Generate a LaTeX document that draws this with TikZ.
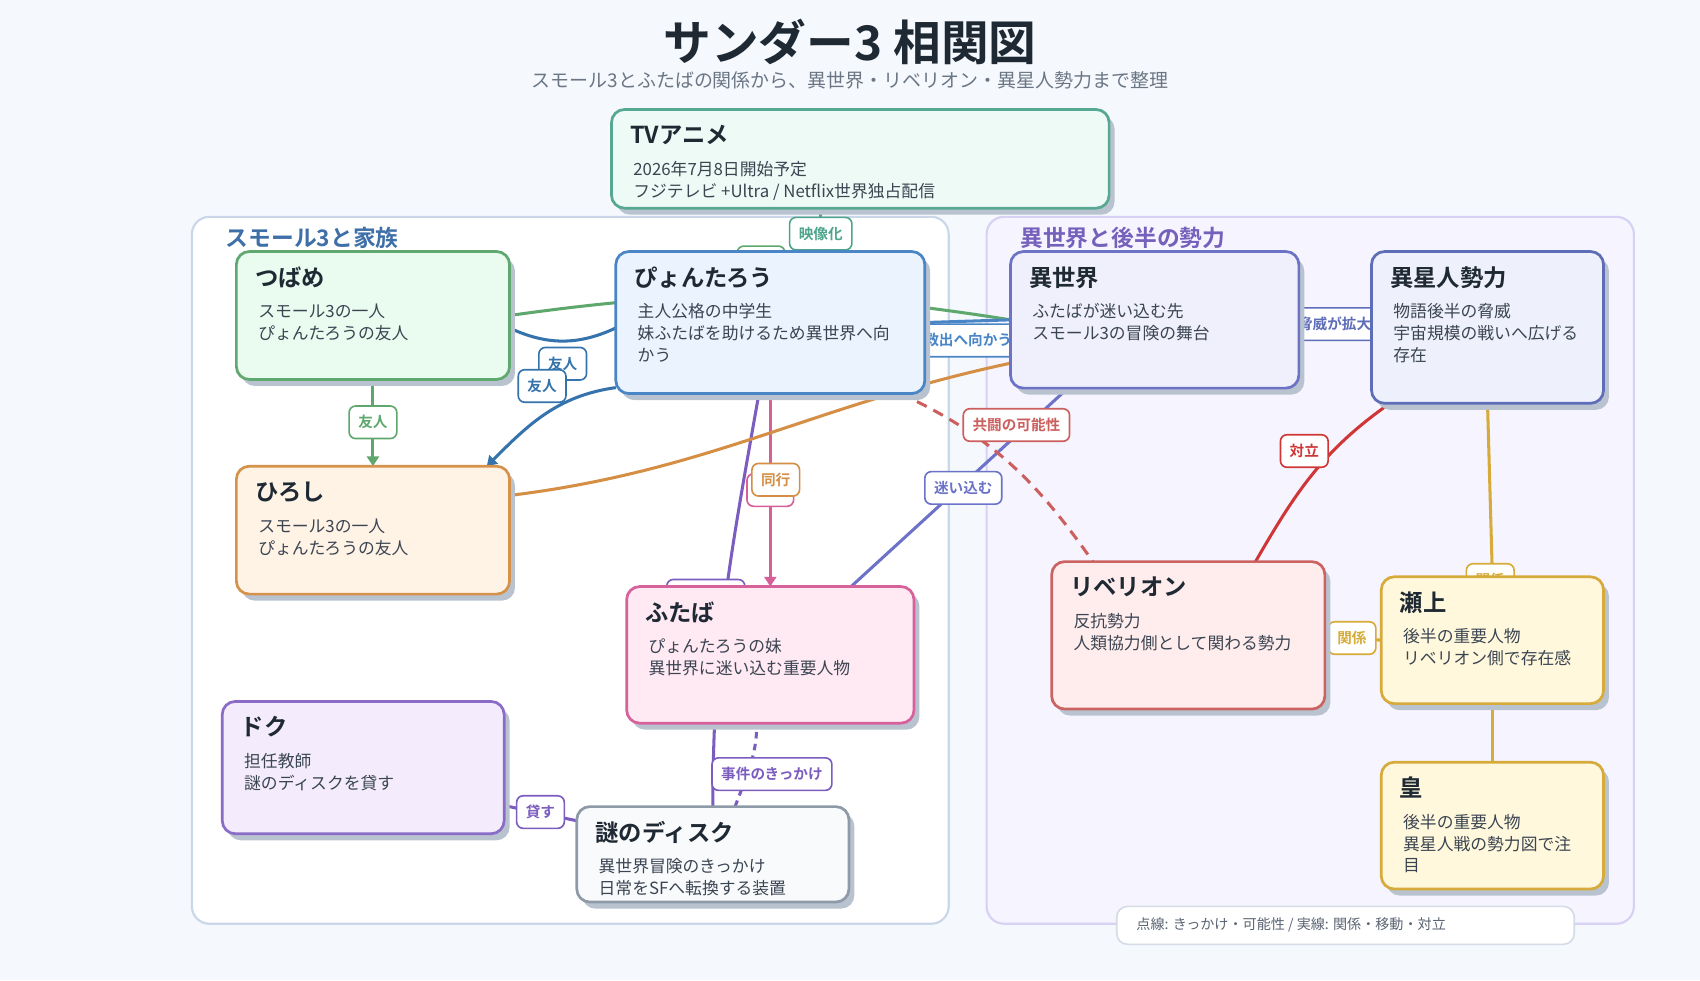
\documentclass[tikz,border=0pt]{standalone}
\usepackage{fontspec}
\setmainfont{Noto Sans CJK JP}[BoldFont={Noto Sans CJK JP Bold}]
\usetikzlibrary{arrows.meta,shadows}

\definecolor{bgc}{HTML}{F5F8FD}
\definecolor{shadowc}{HTML}{B9C3CF}
\definecolor{ink}{HTML}{1F2933}
\definecolor{bodyc}{HTML}{3B4552}
\definecolor{subc}{HTML}{6B7684}
\definecolor{grpLd}{HTML}{CAD7E8}
\definecolor{grpLt}{HTML}{3F6FA8}
\definecolor{grpRd}{HTML}{D7D1F3}
\definecolor{grpRf}{HTML}{F6F4FE}
\definecolor{grpRt}{HTML}{7561BC}
\definecolor{tvD}{HTML}{57A892}\definecolor{tvF}{HTML}{EEFAF5}
\definecolor{tsuD}{HTML}{5FA870}\definecolor{tsuF}{HTML}{EAFBEF}
\definecolor{pyoD}{HTML}{4A86C6}\definecolor{pyoF}{HTML}{EAF3FE}
\definecolor{iseD}{HTML}{6C73C7}\definecolor{iseF}{HTML}{EFF0FC}
\definecolor{aliD}{HTML}{5E6DB8}\definecolor{aliF}{HTML}{EEF1FC}
\definecolor{hirD}{HTML}{D4924B}\definecolor{hirF}{HTML}{FFF3E6}
\definecolor{futD}{HTML}{D6619B}\definecolor{futF}{HTML}{FFE9F3}
\definecolor{rebD}{HTML}{CC6363}\definecolor{rebF}{HTML}{FFECEC}
\definecolor{yelD}{HTML}{D6AB3B}\definecolor{yelF}{HTML}{FFF8DC}
\definecolor{docD}{HTML}{8A6CC7}\definecolor{docF}{HTML}{F4ECFD}
\definecolor{dskD}{HTML}{8E9AA8}\definecolor{dskF}{HTML}{F8FAFC}
\definecolor{legD}{HTML}{D5DCE6}
\definecolor{legT}{HTML}{5A6472}
\definecolor{cTeal}{HTML}{4FA58C}
\definecolor{cGreen}{HTML}{5EA86E}
\definecolor{cBlue}{HTML}{3573AC}
\definecolor{cOrange}{HTML}{D48F45}
\definecolor{cPink}{HTML}{D65F98}
\definecolor{cIndigo}{HTML}{6B72C8}
\definecolor{cPurple}{HTML}{7B5CBF}
\definecolor{cRed}{HTML}{CC5E5E}
\definecolor{cRedD}{HTML}{D03636}
\definecolor{cYellow}{HTML}{D6AB3A}

\newcommand\boxlines[1]{\begin{tabular}[t]{@{}l@{}}#1\end{tabular}}

\pgfdeclarelayer{back}
\pgfdeclarelayer{edge}
\pgfdeclarelayer{lbl}
\pgfsetlayers{back,edge,lbl,main}

\begin{document}
\begin{tikzpicture}[x=1pt,y=1pt,
  grp/.style={rectangle,rounded corners=16pt,line width=2pt,anchor=north west,inner sep=0pt,outer sep=0pt},
  gttl/.style={anchor=base west,inner sep=0pt,font=\fontsize{21}{25}\selectfont\bfseries},
  card/.style={rectangle,rounded corners=12pt,line width=2.5pt,anchor=north west,inner sep=0pt,outer sep=0pt,
    drop shadow={shadow xshift=5pt,shadow yshift=-6pt,opacity=1,fill=shadowc}},
  ttl/.style={anchor=base west,inner sep=0pt,text=ink,font=\fontsize{21.5}{26}\selectfont\bfseries},
  txt/.style={anchor=base west,inner sep=0pt,text=bodyc,font=\fontsize{15.5}{20}\selectfont},
  lab/.style={rectangle,fill=white,rounded corners=6pt,line width=1.5pt,minimum height=30pt,
    inner xsep=8.5pt,inner ysep=0pt,font=\fontsize{13.5}{16}\selectfont\bfseries},
  rel/.style={line width=2.8pt},
  arr/.style={-{Triangle[length=9pt,width=11pt]}}]
\useasboundingbox (0,0) rectangle (1568,-904);

\begin{pgfonlayer}{back}
\fill[bgc] (0,0) rectangle (1568,-904);
\node[grp,draw=grpLd,fill=white,minimum width=698pt,minimum height=652pt] (famgrp) at (177,-200) {};
\node[grp,draw=grpRd,fill=grpRf,minimum width=597pt,minimum height=652pt] (worldgrp) at (910,-200) {};
\end{pgfonlayer}

% title
\node[anchor=base,text=ink,font=\fontsize{44}{52}\selectfont\bfseries] (title) at (784,-55.7) {サンダー3 相関図};
\node[anchor=base,text=subc,font=\fontsize{17.5}{21}\selectfont] (subtitle) at (784,-80.6)
  {スモール3とふたばの関係から、異世界・リベリオン・異星人勢力まで整理};
\node[gttl,text=grpLt] (famttl) at (208,-227) {スモール3と家族};
\node[gttl,text=grpRt] (worldttl) at (941,-227) {異世界と後半の勢力};

% cards
\node[card,draw=tvD,fill=tvF,minimum width=459pt,minimum height=91pt] (tv) at (564,-101) {};
\node[ttl] (tv-t) at ([shift={(17,-31)}]tv.north west) {TVアニメ};
\node[txt] (tv-b) at ([shift={(20,-61)}]tv.north west) {\boxlines{2026年7月8日開始予定\\フジテレビ +Ultra / Netflix世界独占配信}};

\node[card,draw=tsuD,fill=tsuF,minimum width=252pt,minimum height=118pt] (tsubame) at (218,-232) {};
\node[ttl] (tsubame-t) at ([shift={(17,-32)}]tsubame.north west) {つばめ};
\node[txt] (tsubame-b) at ([shift={(20,-61)}]tsubame.north west) {\boxlines{スモール3の一人\\ぴょんたろうの友人}};

\node[card,draw=pyoD,fill=pyoF,minimum width=285pt,minimum height=131pt] (pyon) at (568,-232) {};
\node[ttl] (pyon-t) at ([shift={(17,-32)}]pyon.north west) {ぴょんたろう};
\node[txt] (pyon-b) at ([shift={(20,-61)}]pyon.north west) {\boxlines{主人公格の中学生\\妹ふたばを助けるため異世界へ向\\かう}};

\node[card,draw=iseD,fill=iseF,minimum width=266pt,minimum height=126pt] (isekai) at (932,-232) {};
\node[ttl] (isekai-t) at ([shift={(17,-32)}]isekai.north west) {異世界};
\node[txt] (isekai-b) at ([shift={(20,-61)}]isekai.north west) {\boxlines{ふたばが迷い込む先\\スモール3の冒険の舞台}};

\node[card,draw=aliD,fill=aliF,minimum width=214pt,minimum height=140pt] (alien) at (1265,-232) {};
\node[ttl] (alien-t) at ([shift={(17,-32)}]alien.north west) {異星人勢力};
\node[txt] (alien-b) at ([shift={(20,-61)}]alien.north west) {\boxlines{物語後半の脅威\\宇宙規模の戦いへ広げる\\存在}};

\node[card,draw=hirD,fill=hirF,minimum width=252pt,minimum height=118pt] (hiroshi) at (218,-430) {};
\node[ttl] (hiroshi-t) at ([shift={(17,-32)}]hiroshi.north west) {ひろし};
\node[txt] (hiroshi-b) at ([shift={(20,-61)}]hiroshi.north west) {\boxlines{スモール3の一人\\ぴょんたろうの友人}};

\node[card,draw=futD,fill=futF,minimum width=265pt,minimum height=126pt] (futaba) at (578,-541) {};
\node[ttl] (futaba-t) at ([shift={(17,-32)}]futaba.north west) {ふたば};
\node[txt] (futaba-b) at ([shift={(20,-61)}]futaba.north west) {\boxlines{ぴょんたろうの妹\\異世界に迷い込む重要人物}};

\node[card,draw=rebD,fill=rebF,minimum width=252pt,minimum height=136pt] (rebellion) at (970,-518) {};
\node[ttl] (rebellion-t) at ([shift={(17,-31)}]rebellion.north west) {リベリオン};
\node[txt] (rebellion-b) at ([shift={(20,-61)}]rebellion.north west) {\boxlines{反抗勢力\\人類協力側として関わる勢力}};

\node[card,draw=yelD,fill=yelF,minimum width=205pt,minimum height=117pt] (segami) at (1274,-532) {};
\node[ttl] (segami-t) at ([shift={(17,-32)}]segami.north west) {瀬上};
\node[txt] (segami-b) at ([shift={(20,-61)}]segami.north west) {\boxlines{後半の重要人物\\リベリオン側で存在感}};

\node[card,draw=yelD,fill=yelF,minimum width=205pt,minimum height=117pt] (sumera) at (1274,-703) {};
\node[ttl] (sumera-t) at ([shift={(17,-32)}]sumera.north west) {皇};
\node[txt] (sumera-b) at ([shift={(20,-61)}]sumera.north west) {\boxlines{後半の重要人物\\異星人戦の勢力図で注\\目}};

\node[card,draw=docD,fill=docF,minimum width=260pt,minimum height=122pt] (doc) at (205,-647) {};
\node[ttl] (doc-t) at ([shift={(17,-31)}]doc.north west) {ドク};
\node[txt] (doc-b) at ([shift={(20,-61)}]doc.north west) {\boxlines{担任教師\\謎のディスクを貸す}};

\node[card,draw=dskD,fill=dskF,minimum width=251pt,minimum height=88pt] (disk) at (532,-744) {};
\node[ttl] (disk-t) at ([shift={(17,-32)}]disk.north west) {謎のディスク};
\node[txt] (disk-b) at ([shift={(20,-61)}]disk.north west) {\boxlines{異世界冒険のきっかけ\\日常をSFへ転換する装置}};

% legend
\node[rectangle,draw=legD,fill=white,rounded corners=10pt,line width=1.5pt,minimum width=422pt,minimum height=35pt,
  anchor=north west,inner sep=0pt,outer sep=0pt] (legend) at (1030,-836) {};
\node[anchor=base west,inner sep=0pt,text=legT,font=\fontsize{13}{16}\selectfont] (legend-t)
  at ([shift={(18,-21)}]legend.north west) {点線: きっかけ・可能性 / 実線: 関係・移動・対立};

% connectors
\begin{pgfonlayer}{edge}
\draw[rel,cTeal] ([xshift=-36.5pt]tv.south) -- ([xshift=46.5pt]pyon.north);
\draw[rel,cGreen] (tsubame.east) to[out=8,in=171] (isekai.west);
\draw[rel,cGreen,arr] (tsubame.south) -- (hiroshi.north);
\draw[rel,cBlue] ([yshift=-5pt]pyon.west) to[out=205,in=-25] ([yshift=-11.5pt]tsubame.east);
\draw[rel,cBlue,arr] ([yshift=-60pt]pyon.west) to[out=188,in=45] ([xshift=-21pt]hiroshi.north east);
\draw[rel,pyoD] (pyon.east) -- (isekai.west);
\draw[rel,cPink,arr] (pyon.south) -- (futaba.north);
\draw[rel,cPurple] (disk.north) to[out=90,in=-100] ([xshift=-10.5pt]pyon.south);
\draw[rel,cPurple,dash pattern=on 6pt off 5pt] ([xshift=20.5pt]disk.north) to[out=70,in=-90] ([xshift=-12.5pt]futaba.south);
\draw[rel,cPurple] ([yshift=-35pt]doc.east) -- ([yshift=31pt]disk.west);
\draw[rel,cIndigo] ([xshift=74.5pt]futaba.north) -- ([xshift=-80pt]isekai.south);
\draw[rel,cOrange] ([yshift=32pt]hiroshi.east) to[out=7,in=192] ([yshift=-40pt]isekai.west);
\draw[rel,cRed,dash pattern=on 10pt off 7pt] ([xshift=120pt]pyon.south) to[out=-25,in=125] ([xshift=-88pt]rebellion.north);
\draw[rel,aliD] (isekai.east) -- (alien.west);
\draw[rel,cRedD] ([xshift=-90pt]alien.south) to[out=215,in=60] ([xshift=62pt]rebellion.north);
\draw[rel,cYellow] (alien.south) -- (segami.north);
\draw[rel,cYellow] (rebellion.east) -- (segami.west);
\draw[rel,cYellow] (segami.south) -- (sumera.north);
\end{pgfonlayer}

% connector labels
\begin{pgfonlayer}{lbl}
\node[lab,draw=cTeal,text=cTeal] (lb-eizo) at (757,-215.5) {映像化};
\node[lab,draw=cGreen,minimum width=44pt] (lb-hid1) at (702,-242) {};
\node[lab,draw=cGreen,text=cGreen] (lb-tomo1) at (344,-389.5) {友人};
\node[lab,draw=cBlue,text=cBlue] (lb-tomo2) at (519,-335.5) {友人};
\node[lab,draw=cBlue,text=cBlue] (lb-tomo3) at (500,-356) {友人};
\node[lab,draw=pyoD,text=pyoD] (lb-rescue) at (893,-314) {救出へ向かう};
\node[lab,draw=cPink,minimum width=43pt] (lb-hid2) at (710.5,-452) {};
\node[lab,draw=cOrange,text=cOrange] (lb-dokou) at (715.5,-442.5) {同行};
\node[lab,draw=cPurple,minimum width=72pt] (lb-hid3) at (651,-549.5) {};
\node[lab,draw=cPurple,text=cPurple] (lb-trigger) at (712,-714) {事件のきっかけ};
\node[lab,draw=cPurple,text=cPurple] (lb-lend) at (498.5,-749) {貸す};
\node[lab,draw=cIndigo,text=cIndigo] (lb-lost) at (888.5,-450) {迷い込む};
\node[lab,draw=cRed,text=cRed] (lb-ally) at (937.5,-392) {共闘の可能性};
\node[lab,draw=aliD,text=aliD] (lb-threat) at (1231,-299) {脅威が拡大};
\node[lab,draw=cRedD,text=cRedD] (lb-oppose) at (1203,-416) {対立};
\node[lab,draw=cYellow,text=cYellow] (lb-rel1) at (1374.5,-535) {関係};
\node[lab,draw=cYellow,text=cYellow] (lb-rel2) at (1247,-588.5) {関係};
\end{pgfonlayer}
\end{tikzpicture}
\end{document}
